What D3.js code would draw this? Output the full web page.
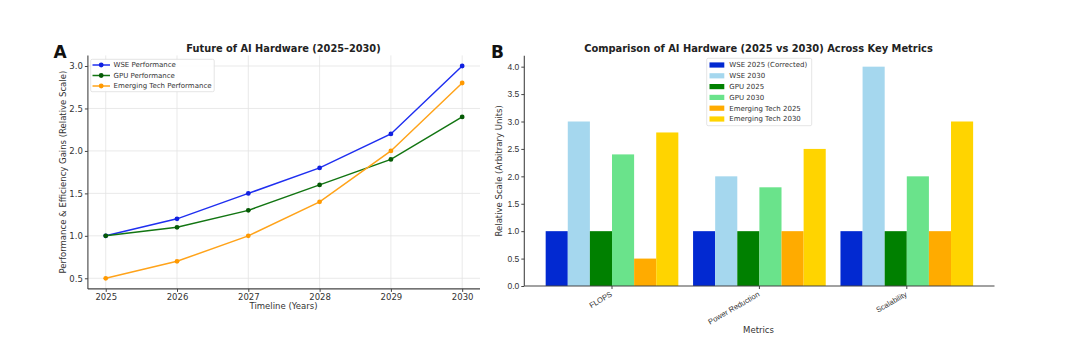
<!DOCTYPE html>
<html>
<head>
<meta charset="utf-8">
<script src="https://cdn.jsdelivr.net/npm/d3@7"></script>
<style>
html,body{margin:0;padding:0;background:#fff;}
svg{display:block;font-family:"DejaVu Sans",sans-serif;}
</style>
</head>
<body>
<svg id="chart" width="1080" height="357"></svg>
<script>
// ---- Data: panel A ----
const years = [2025, 2026, 2027, 2028, 2029, 2030];
const wsePerf = [1.0, 1.2, 1.5, 1.8, 2.2, 3.0];
const gpuPerf = [1.0, 1.1, 1.3, 1.6, 1.9, 2.4];
const emergingPerf = [0.5, 0.7, 1.0, 1.4, 2.0, 2.8];
const lineNames = ["WSE Performance", "GPU Performance", "Emerging Tech Performance"];
const yTicksA = [0.5, 1.0, 1.5, 2.0, 2.5, 3.0];

// ---- Data: panel B ----
const metrics = ["FLOPS", "Power Reduction", "Scalability"];
const barSeries = ["WSE 2025 (Corrected)", "WSE 2030", "GPU 2025", "GPU 2030", "Emerging Tech 2025", "Emerging Tech 2030"];
const wse2025 = [1, 1, 1];
const wse2030 = [3.0, 2.0, 4.0];
const gpu2025 = [1, 1, 1];
const gpu2030 = [2.4, 1.8, 2.0];
const et2025 = [0.5, 1, 1];
const et2030 = [2.8, 2.5, 3.0];
const yTicksB = [0.0, 0.5, 1.0, 1.5, 2.0, 2.5, 3.0, 3.5, 4.0];

const svg = d3.select("#chart");
const spineColor = "#444";
const tickText = "#333";

// ================= Panel A =================
{
  const L = 87.9, R = 480, T = 55.4, B = 288.9;
  const x = d3.scaleLinear().domain([2024.75, 2030.25]).range([L, R]);
  const y = d3.scaleLinear().domain([0.375, 3.125]).range([B, T]);
  const g = svg.append("g");

  g.selectAll(".gx").data(years).enter().append("line")
    .attr("x1", d => x(d)).attr("x2", d => x(d)).attr("y1", T).attr("y2", B)
    .attr("stroke", "#e3e3e3").attr("stroke-width", 0.8);
  g.selectAll(".gy").data(yTicksA).enter().append("line")
    .attr("x1", L).attr("x2", R).attr("y1", d => y(d)).attr("y2", d => y(d))
    .attr("stroke", "#e3e3e3").attr("stroke-width", 0.8);

  const xAxis = d3.axisBottom(x).tickValues(years).tickFormat(d3.format("d")).tickSizeOuter(0).tickSize(3).tickPadding(2);
  const yAxis = d3.axisLeft(y).tickValues(yTicksA).tickFormat(d3.format(".1f")).tickSizeOuter(0).tickSize(3).tickPadding(2);
  const gx = g.append("g").attr("transform", `translate(0,${B})`).call(xAxis);
  const gy = g.append("g").attr("transform", `translate(${L},0)`).call(yAxis);
  [gx, gy].forEach(a => {
    a.select(".domain").attr("stroke", spineColor).attr("stroke-width", 1.1);
    a.selectAll(".tick line").attr("stroke", spineColor);
    a.selectAll(".tick text").attr("fill", tickText).style("font-size", "8.5px").style("font-family", "DejaVu Sans");
  });
  gy.select(".domain").attr("d", `M0,${B}V${T}`);
  gx.select(".domain").attr("d", `M${L},0H${R}`);

  const series = [
    {name: lineNames[0], vals: wsePerf, color: "#1f2ff0", mcolor: "#1020e0"},
    {name: lineNames[1], vals: gpuPerf, color: "#127512", mcolor: "#055a05"},
    {name: lineNames[2], vals: emergingPerf, color: "#ffa31a", mcolor: "#ff9900"}
  ];
  const line = d3.line().x((d, i) => x(years[i])).y(d => y(d));
  series.forEach(s => {
    g.append("path").datum(s.vals).attr("d", line).attr("fill", "none")
      .attr("stroke", s.color).attr("stroke-width", 1.5);
    g.selectAll(null).data(s.vals).enter().append("circle")
      .attr("cx", (d, i) => x(years[i])).attr("cy", d => y(d)).attr("r", 2.4)
      .attr("fill", s.mcolor);
  });

  const lg = g.append("g");
  lg.append("rect").attr("x", 90.7).attr("y", 59.3).attr("width", 123.5).attr("height", 32.4)
    .attr("fill", "#fff").attr("fill-opacity", 0.85).attr("stroke", "#ddd").attr("stroke-width", 0.8).attr("rx", 1.5);
  series.forEach((s, i) => {
    const yy = 65 + i * 10.5;
    lg.append("line").attr("x1", 92.5).attr("x2", 110).attr("y1", yy).attr("y2", yy)
      .attr("stroke", s.color).attr("stroke-width", 1.5);
    lg.append("circle").attr("cx", 101.2).attr("cy", yy).attr("r", 2.4).attr("fill", s.mcolor);
    lg.append("text").attr("x", 113.5).attr("y", yy).attr("dy", "0.35em")
      .style("font-size", "7px").attr("fill", "#333").text(s.name);
  });

  g.append("text").attr("x", 283.5).attr("y", 51.5).attr("text-anchor", "middle")
    .style("font-size", "9.8px").style("font-weight", "bold").attr("fill", "#222")
    .text("Future of AI Hardware (2025–2030)");
  g.append("text").attr("x", 283.5).attr("y", 308.5).attr("text-anchor", "middle")
    .style("font-size", "8.5px").attr("fill", "#333").text("Timeline (Years)");
  g.append("text").attr("transform", `translate(66,${(T + B) / 2}) rotate(-90)`).attr("text-anchor", "middle")
    .style("font-size", "8.5px").attr("fill", "#333").text("Performance & Efficiency Gains (Relative Scale)");
  g.append("text").attr("x", 53.5).attr("y", 58)
    .style("font-size", "17px").style("font-weight", "bold").attr("fill", "#111").text("A");
}

// ================= Panel B =================
{
  const L = 524.3, R = 994.5, T = 55.7, B = 286;
  const x = d3.scaleLinear().domain([-0.595, 2.595]).range([L, R]);
  const y = d3.scaleLinear().domain([0, 4.2]).range([B, T]);
  const g = svg.append("g");
  const barW = 0.15;
  const colors = ["#0229d1", "#a5d7ee", "#008000", "#6ae38b", "#ffab00", "#ffd400"];
  const data = [wse2025, wse2030, gpu2025, gpu2030, et2025, et2030];

  data.forEach((vals, j) => {
    g.selectAll(null).data(vals).enter().append("rect")
      .attr("x", (d, i) => x(i + (j - 3) * barW))
      .attr("width", x(barW) - x(0))
      .attr("y", d => y(d)).attr("height", d => y(0) - y(d))
      .attr("fill", colors[j]);
  });

  const yAxis = d3.axisLeft(y).tickValues(yTicksB).tickFormat(d3.format(".1f")).tickSizeOuter(0).tickSize(3).tickPadding(2);
  const gy = g.append("g").attr("transform", `translate(${L},0)`).call(yAxis);
  gy.select(".domain").attr("d", `M0,${B}V${T}`).attr("stroke", spineColor).attr("stroke-width", 1.1);
  gy.selectAll(".tick line").attr("stroke", spineColor);
  gy.selectAll(".tick text").attr("fill", tickText).style("font-size", "8.5px");

  const xs = d3.scaleBand().domain(metrics).range([x(-0.5), x(2.5)]);
  const xAxis = d3.axisBottom(xs).tickSizeOuter(0).tickSize(3);
  const gx = g.append("g").attr("transform", `translate(0,${B})`).call(xAxis);
  gx.select(".domain").attr("d", `M${L},0H${R}`).attr("stroke", spineColor).attr("stroke-width", 1.1);
  gx.selectAll(".tick line").attr("stroke", spineColor);
  gx.selectAll(".tick text").attr("fill", tickText).style("font-size", "7.6px")
    .attr("text-anchor", "end").attr("y", 0).attr("dy", "0.72em")
    .attr("transform", "translate(-2,5) rotate(-30)");

  const lg = g.append("g");
  lg.append("rect").attr("x", 706.7).attr("y", 58.3).attr("width", 105).attr("height", 67.4)
    .attr("fill", "#fff").attr("fill-opacity", 0.85).attr("stroke", "#ddd").attr("stroke-width", 0.8).attr("rx", 1.5);
  barSeries.forEach((s, i) => {
    const yy = 65 + i * 10.8;
    lg.append("rect").attr("x", 709.5).attr("y", yy - 2.6).attr("width", 14.8).attr("height", 5.2).attr("fill", colors[i]);
    lg.append("text").attr("x", 729.3).attr("y", yy).attr("dy", "0.35em")
      .style("font-size", "7px").attr("fill", "#333").text(s);
  });

  g.append("text").attr("x", 758.5).attr("y", 51.5).attr("text-anchor", "middle")
    .style("font-size", "9.9px").style("font-weight", "bold").attr("fill", "#222")
    .text("Comparison of AI Hardware (2025 vs 2030) Across Key Metrics");
  g.append("text").attr("x", 758.5).attr("y", 333).attr("text-anchor", "middle")
    .style("font-size", "8.5px").attr("fill", "#333").text("Metrics");
  g.append("text").attr("transform", `translate(502,${(T + B) / 2}) rotate(-90)`).attr("text-anchor", "middle")
    .style("font-size", "8.5px").attr("fill", "#333").text("Relative Scale (Arbitrary Units)");
  g.append("text").attr("x", 491).attr("y", 58)
    .style("font-size", "17px").style("font-weight", "bold").attr("fill", "#111").text("B");
}
</script>
</body>
</html>
